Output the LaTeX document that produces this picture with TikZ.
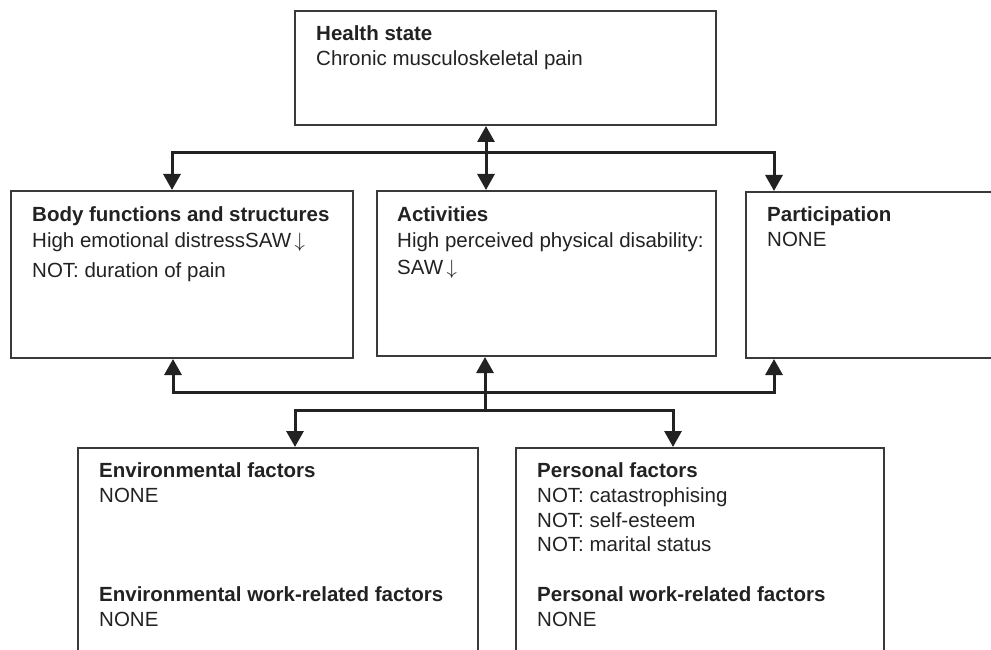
\documentclass[tikz,border=0pt]{standalone}
\usepackage{fontspec}
\setmainfont{Liberation Sans}
\usetikzlibrary{arrows.meta}
\definecolor{ink}{HTML}{222222}
\definecolor{frame}{HTML}{3A3A3A}
\newcommand\boxlines[1]{\begin{tabular}[t]{@{}l@{}}#1\end{tabular}}
\newcommand\dnarrow{\,$\downarrow$}
\begin{document}
\begin{tikzpicture}[x=1pt,y=-1pt,
  box/.style={draw=frame,line width=2pt,rectangle,anchor=north west,inner sep=0pt},
  txt/.style={anchor=base west,inner sep=0pt,text=ink,font=\fontsize{20.5}{25}\selectfont},
  arr/.style={draw=ink,line width=3pt,-{Triangle[width=17pt,length=16pt]}},
  dbl/.style={draw=ink,line width=3pt,{Triangle[width=17pt,length=16pt]}-{Triangle[width=17pt,length=16pt]}}]
\useasboundingbox (0,0) rectangle (991,650);
\clip (0,0) rectangle (991,650);
% boxes
\node[box,minimum width=421pt,minimum height=114pt] (health) at (294,10) {};
\node[box,minimum width=342pt,minimum height=167pt] (body) at (10,190) {};
\node[box,minimum width=339pt,minimum height=165pt] (act) at (376,190) {};
\node[box,minimum width=270pt,minimum height=166pt] (part) at (745,191) {};
\node[box,minimum width=400pt,minimum height=230pt] (env) at (77,447) {};
\node[box,minimum width=368pt,minimum height=230pt] (pers) at (515,447) {};
% texts
\node[txt] (healthT) at (316,41) {\boxlines{\textbf{Health state}\\Chronic musculoskeletal pain}};
\node[txt] (bodyT) at (32,221) {\boxlines{\textbf{Body functions and structures}\\[2pt]High emotional distressSAW\dnarrow\\[5pt]NOT: duration of pain}};
\node[txt] (actT) at (397,221) {\boxlines{\textbf{Activities}\\[2pt]High perceived physical disability:\\[1pt]SAW\dnarrow}};
\node[txt] (partT) at (767,221) {\boxlines{\textbf{Participation}\\NONE}};
\node[txt] (envT) at (99,477) {\boxlines{\textbf{Environmental factors}\\NONE}};
\node[txt] (envW) at (99,601) {\boxlines{\textbf{Environmental work-related factors}\\NONE}};
\node[txt] (persT) at (537,477) {\boxlines{\textbf{Personal factors}\\NOT: catastrophising\\NOT: self-esteem\\[-1pt]NOT: marital status}};
\node[txt] (persW) at (537,601) {\boxlines{\textbf{Personal work-related factors}\\NONE}};
% junction coordinates
\coordinate (hx) at (486,0);
\coordinate (tl) at (172,153);
\coordinate (tr) at (774,153);
\coordinate (bl) at (173,392);
\coordinate (br) at (774,392);
\coordinate (vb) at (485,410);
\coordinate (el) at (295,410);
\coordinate (pr) at (673,410);
% connectors
\draw[dbl] (health.south -| hx) -- (act.north -| hx);
\draw[arr] (tr) -| (body.north -| tl);
\draw[arr] (tl) -| (part.north -| tr);
\draw[arr] (br) -| (body.south -| bl);
\draw[arr] (bl) -| (part.south -| br);
\draw[arr] (vb) -- (act.south -| vb);
\draw[arr] (pr) -| (env.north -| el);
\draw[arr] (el) -| (pers.north -| pr);
\end{tikzpicture}
\end{document}
